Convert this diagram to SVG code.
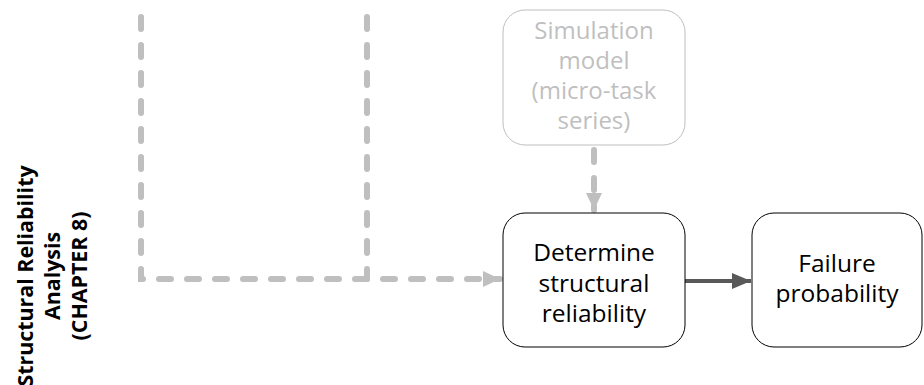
<svg xmlns="http://www.w3.org/2000/svg" width="924" height="385" viewBox="0 0 924 385">
<defs>
<style>
.box{fill:#fff;stroke:#000;stroke-width:1}
.ghost{fill:#fff;stroke:#bfbfbf;stroke-width:1}
.t{font-family:"Open Sans","Noto Sans","Liberation Sans",sans-serif;font-size:24.5px;fill:#000;text-anchor:middle}
.tg{font-family:"Open Sans","Noto Sans","Liberation Sans",sans-serif;font-size:24px;fill:#bfbfbf;text-anchor:middle}
.lbl{font-family:"Open Sans","Noto Sans","Liberation Sans",sans-serif;font-size:21.4px;font-weight:bold;fill:#000;text-anchor:middle}
.dash{fill:none;stroke:#bfbfbf;stroke-width:6;stroke-dasharray:12 16;stroke-linecap:round}
</style>
<marker id="ag" markerUnits="userSpaceOnUse" viewBox="0 0 17 16" refX="17" refY="8" markerWidth="17" markerHeight="16" orient="auto"><path d="M0,0L17,8L0,16Z" fill="#bfbfbf"/></marker>
<marker id="ad" markerUnits="userSpaceOnUse" viewBox="0 0 19 16" refX="19" refY="8" markerWidth="19" markerHeight="16" orient="auto"><path d="M0,0L19,8L0,16Z" fill="#595959"/></marker>
</defs>
<rect width="924" height="385" fill="#fff"/>
<g id="section-label" transform="translate(0,276) rotate(-90)">
<text class="lbl" x="0" y="33">Structural Reliability</text>
<text class="lbl" x="0" y="60">Analysis</text>
<text class="lbl" x="0" y="87">(CHAPTER 8)</text>
</g>
<g id="connectors">
<path class="dash" d="M141,17V279H500" marker-end="url(#ag)"/>
<path class="dash" d="M367,17V279"/>
<path class="dash" d="M594,150V210" marker-end="url(#ag)"/>
<path d="M683,281H751" fill="none" stroke="#595959" stroke-width="4" marker-end="url(#ad)"/>
</g>
<g id="simulation-model">
<rect class="ghost" x="503" y="10" width="182" height="135" rx="22"/>
<text class="tg" x="594" y="39">Simulation</text>
<text class="tg" x="594" y="69">model</text>
<text class="tg" x="594" y="99">(micro-task</text>
<text class="tg" x="594" y="129">series)</text>
</g>
<g id="determine-reliability">
<rect class="box" x="503" y="213" width="182" height="134" rx="22"/>
<text class="t" x="594" y="261">Determine</text>
<text class="t" x="594" y="292">structural</text>
<text class="t" x="594" y="322">reliability</text>
</g>
<g id="failure-probability">
<rect class="box" x="752" y="213" width="170" height="134" rx="22"/>
<text class="t" x="837" y="272">Failure</text>
<text class="t" x="837" y="302">probability</text>
</g>
</svg>
